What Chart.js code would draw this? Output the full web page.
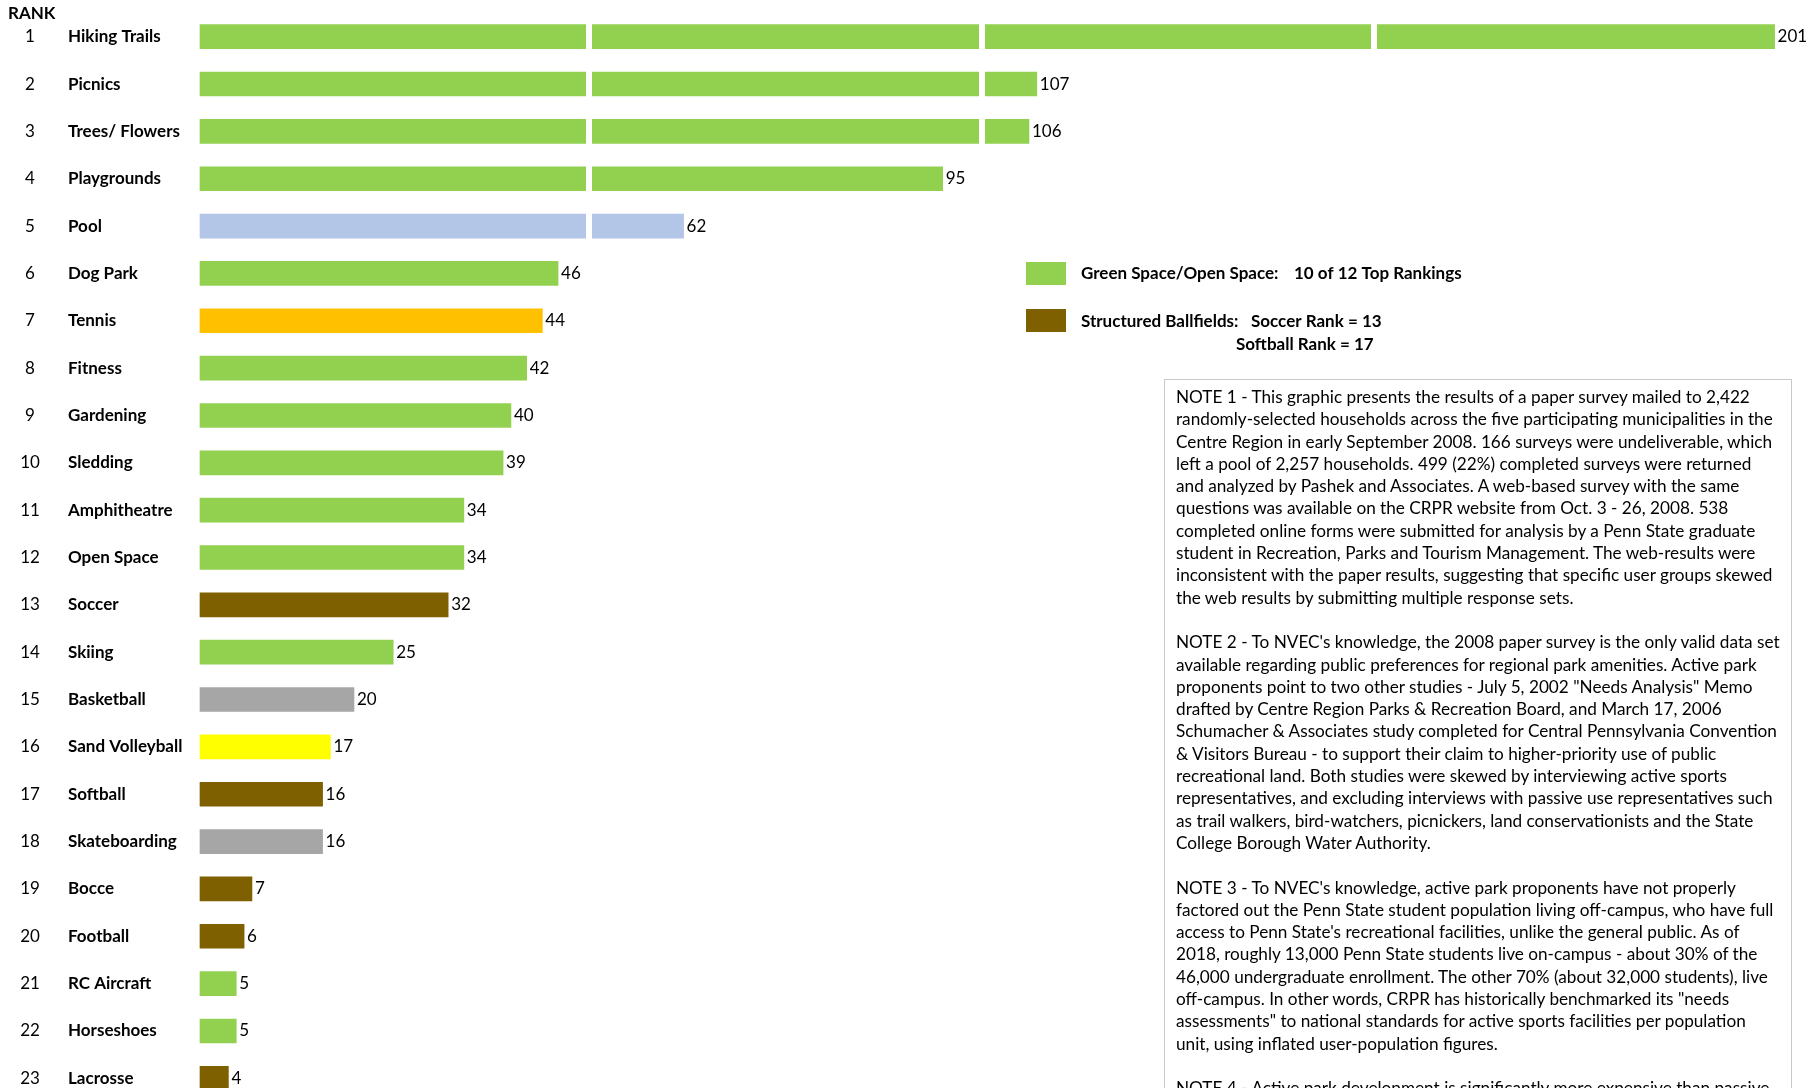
<!DOCTYPE html>
<html>
<head>
<meta charset="utf-8">
<script src="https://cdn.jsdelivr.net/npm/chart.js@4.4.1/dist/chart.umd.min.js"></script>
<style>
  body { margin: 0; background: #fff; overflow: hidden; }
  #wrap { position: relative; width: 1811px; height: 1088px; overflow: hidden; }
  #c { position: absolute; left: 0; top: 0; }
  #notes {
    position: absolute; left: 1164px; top: 379px; width: 628px; height: 760px;
    box-sizing: border-box; border: 1px solid #c8c8c8;
    padding: 6px 0 0 11px;
    font-family: Lato, sans-serif; font-size: 17.2px; line-height: 22.3px; color: #000;
  }
  #notes div { white-space: nowrap; height: 22.3px; }
</style>
</head>
<body>
<div id="wrap">
  <canvas id="c" width="1811" height="1104"></canvas>
  <div id="notes"></div>
</div>
<script>
const ranks = [1, 2, 3, 4, 5, 6, 7, 8, 9, 10, 11, 12, 13, 14, 15, 16, 17, 18, 19, 20, 21, 22, 23];
const categories = ['Hiking Trails', 'Picnics', 'Trees/ Flowers', 'Playgrounds', 'Pool', 'Dog Park',
  'Tennis', 'Fitness', 'Gardening', 'Sledding', 'Amphitheatre', 'Open Space', 'Soccer', 'Skiing',
  'Basketball', 'Sand Volleyball', 'Softball', 'Skateboarding', 'Bocce', 'Football', 'RC Aircraft',
  'Horseshoes', 'Lacrosse'];
const votes = [201, 107, 106, 95, 62, 46, 44, 42, 40, 39, 34, 34, 32, 25, 20, 17, 16, 16, 7, 6, 5, 5, 4];

// colour per bar
const GREEN = '#92d050', BROWN = '#7f6000';
const barColors = [GREEN, GREEN, GREEN, GREEN, '#b4c6e7', GREEN, '#ffc000', GREEN, GREEN, GREEN,
  GREEN, GREEN, BROWN, GREEN, '#a6a6a6', '#ffff00', BROWN, '#a6a6a6', BROWN, BROWN, GREEN, GREEN, BROWN];

const notes = [
  ['NOTE 1 - This graphic presents the results of a paper survey mailed to 2,422',
   'randomly-selected households across the five participating municipalities in the',
   'Centre Region in early September 2008. 166 surveys were undeliverable, which',
   'left a pool of 2,257 households. 499 (22%) completed surveys were returned',
   'and analyzed by Pashek and Associates. A web-based survey with the same',
   'questions was available on the CRPR website from Oct. 3 - 26, 2008. 538',
   'completed online forms were submitted for analysis by a Penn State graduate',
   'student in Recreation, Parks and Tourism Management. The web-results were',
   'inconsistent with the paper results, suggesting that specific user groups skewed',
   'the web results by submitting multiple response sets.'],
  ['NOTE 2 - To NVEC\'s knowledge, the 2008 paper survey is the only valid data set',
   'available regarding public preferences for regional park amenities. Active park',
   'proponents point to two other studies - July 5, 2002 "Needs Analysis" Memo',
   'drafted by Centre Region Parks & Recreation Board, and March 17, 2006',
   'Schumacher & Associates study completed for Central Pennsylvania Convention',
   '& Visitors Bureau - to support their claim to higher-priority use of public',
   'recreational land. Both studies were skewed by interviewing active sports',
   'representatives, and excluding interviews with passive use representatives such',
   'as trail walkers, bird-watchers, picnickers, land conservationists and the State',
   'College Borough Water Authority.'],
  ['NOTE 3 - To NVEC\'s knowledge, active park proponents have not properly',
   'factored out the Penn State student population living off-campus, who have full',
   'access to Penn State\'s recreational facilities, unlike the general public. As of',
   '2018, roughly 13,000 Penn State students live on-campus - about 30% of the',
   '46,000 undergraduate enrollment. The other 70% (about 32,000 students), live',
   'off-campus. In other words, CRPR has historically benchmarked its "needs',
   'assessments" to national standards for active sports facilities per population',
   'unit, using inflated user-population figures.'],
  ['NOTE 4 - Active park development is significantly more expensive than passive']
];

const box = document.getElementById('notes');
notes.forEach((para, i) => {
  if (i > 0) box.appendChild(document.createElement('div'));
  para.forEach(line => {
    const d = document.createElement('div');
    d.textContent = line;
    box.appendChild(d);
  });
});

const FONT = 'Lato, sans-serif';

const textPlugin = {
  id: 'rowText',
  afterDraw(chart) {
    const ctx = chart.ctx;
    const xs = chart.scales.x, ys = chart.scales.y;
    ctx.save();
    ctx.fillStyle = '#000';
    ctx.textBaseline = 'middle';

    ctx.font = 'bold 17px ' + FONT;
    ctx.textAlign = 'left';
    ctx.fillText('RANK', 8, 14);

    categories.forEach((name, i) => {
      const py = ys.getPixelForValue(i);
      ctx.font = '17px ' + FONT;
      ctx.textAlign = 'center';
      ctx.fillText(String(ranks[i]), 30, py);
      ctx.font = 'bold 17px ' + FONT;
      ctx.textAlign = 'left';
      ctx.fillText(name, 68, py);
      ctx.font = '17px ' + FONT;
      ctx.fillText(String(votes[i]), xs.getPixelForValue(votes[i]) + 3, py);
    });

    // legend
    ctx.fillStyle = GREEN;
    ctx.fillRect(1026, 262, 40, 23);
    ctx.fillStyle = BROWN;
    ctx.fillRect(1026, 309, 40, 23);
    ctx.fillStyle = '#000';
    ctx.font = 'bold 17px ' + FONT;
    ctx.textAlign = 'left';
    ctx.fillText('Green Space/Open Space:', 1081, 274);
    ctx.fillText('10 of 12 Top Rankings', 1294, 274);
    ctx.fillText('Structured Ballfields:', 1081, 322);
    ctx.fillText('Soccer Rank = 13', 1251, 322);
    ctx.fillText('Softball Rank = 17', 1236, 345);
    ctx.restore();
  }
};

new Chart(document.getElementById('c'), {
  type: 'bar',
  data: {
    labels: categories,
    datasets: [{
      data: votes,
      backgroundColor: barColors,
      barThickness: 24,
      borderWidth: 0
    }]
  },
  options: {
    indexAxis: 'y',
    responsive: false,
    animation: false,
    devicePixelRatio: 1,
    layout: { padding: { left: 197, right: 5, top: 13, bottom: 2 } },
    plugins: { legend: { display: false }, tooltip: { enabled: false } },
    scales: {
      x: {
        min: 0, max: 205,
        ticks: { display: false, stepSize: 50 },
        border: { display: false },
        grid: {
          z: 1,
          drawTicks: false,
          lineWidth: 6,
          color: c => (c.tick && c.tick.value > 0 && c.tick.value < 200 && c.tick.value % 50 === 0) ? '#ffffff' : 'rgba(0,0,0,0)'
        }
      },
      y: { display: false }
    }
  },
  plugins: [textPlugin]
});
</script>
</body>
</html>
